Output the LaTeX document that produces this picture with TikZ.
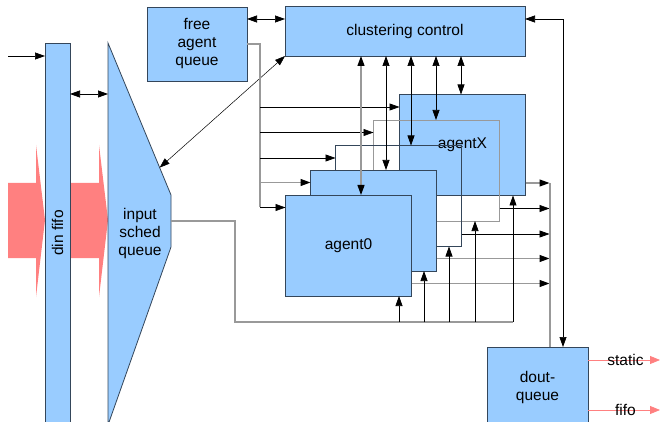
\documentclass[tikz,border=0pt]{standalone}
\usepackage{fontspec}
\setmainfont{Liberation Sans}
\usetikzlibrary{arrows.meta,calc}

\definecolor{boxblue}{HTML}{99CCFF}
\definecolor{boxline}{HTML}{34465A}
\definecolor{flowpink}{HTML}{FF8080}
\definecolor{wiregray}{HTML}{999999}

\tikzset{
  box/.style={draw=boxline, fill=boxblue, line width=0.8pt, outer sep=0pt, inner sep=0pt,
    align=center, minimum width=126pt, minimum height=101pt},
  frame/.style={draw=#1, line width=0.8pt, outer sep=0pt, minimum width=126pt, minimum height=101pt},
  tipb/.tip={Triangle[length=10pt, width=7pt, color=black]},
  arr/.style={-tipb, line width=0.7pt},
  dbl/.style={tipb-tipb, line width=0.7pt},
  garr/.style={-tipb, draw=wiregray, line width=1.2pt},
  gdbl/.style={tipb-tipb, draw=wiregray, line width=1.2pt},
  gwire/.style={draw=wiregray, line width=1.1pt},
  bus/.style={draw=wiregray, line width=2pt},
  parr/.style={-{Triangle[length=10pt, width=8pt]}, draw=flowpink, line width=0.8pt},
}

\begin{document}
\begin{tikzpicture}[x=1pt, y=-1pt, font=\fontsize{15.5pt}{18pt}\selectfont]
  \useasboundingbox (0,0) rectangle (661,422);

  % Incoming data flow
  \fill[flowpink] (8,183) -- (36,183) -- (36,145) -- (45,220) -- (36,297) -- (36,258) -- (8,258) -- cycle;
  \fill[flowpink] (70,183) -- (99,183) -- (99,145) -- (108,220) -- (99,297) -- (99,258) -- (70,258) -- cycle;

  % Input fifo and scheduler queue
  \node[box, minimum width=25pt, minimum height=380pt] (din) at (57.5,233) {};
  \node[rotate=90] (dinlbl) at (din) {din fifo};
  \coordinate (q1) at (108,43);
  \coordinate (q2) at (171,195);
  \coordinate (q3) at (171,247);
  \coordinate (q4) at (108,425);
  \draw[fill=boxblue, draw=boxline, line width=0.8pt] (q1) -- (q2) -- (q3) -- (q4) -- cycle;
  \node[align=center] (isq) at (140,233) {input\\sched\\queue};
  \coordinate (qin) at (108,94);
  \coordinate (qslant) at ($(q1)!0.82!(q2)$);
  \coordinate (qout) at ($(q2)!0.5!(q3)$);

  % Control blocks
  \node[box, minimum width=100pt, minimum height=74pt] (fq) at (197,44) {free\\agent\\queue};
  \node[box, minimum width=240pt, minimum height=50pt] (cc) at (405,31) {clustering control};
  \node[box, minimum width=101pt, minimum height=80pt] (dq) at (537.5,387) {dout-\\queue};

  % Agents
  \node[box] (ax) at (462.5,145) {agentX};
  \node[frame=wiregray] (a3) at (436.5,170.5) {};
  \node[frame=boxline] (a2) at (398.5,196) {};
  \node[box] (a1) at (373.5,220.5) {};
  \node[box] (a0) at (348.5,245.5) {agent0};

  % Lines
  \coordinate (src) at (8,56);
  \draw[arr] (src) -- (src -| din.west);
  \draw[dbl] (din.east |- qin) -- (qin);
  \draw[dbl, line width=0.5pt] (cc.south west) -- (qslant);

  \coordinate (rloop) at (563,19);
  \draw[dbl] (fq.east |- rloop) -- (cc.west |- rloop);
  \draw[dbl] (rloop -| cc.east) -| (rloop |- dq.north);

  % free agent queue to agents
  \foreach \b in {ax,a3,a2,a1,a0}
    \coordinate (in\b) at ([yshift=-12.5pt]\b.north west);
  \draw[gwire] (fq.east) -| (260,0 |- ina0);
  \foreach \b/\s in {ax/arr,a3/arr,a2/arr,a1/garr,a0/arr}
    \draw[\s] (260,0 |- in\b) -- (in\b);

  % clustering control to agents
  \foreach \b/\x/\s in {a0/361/gdbl,a1/386/dbl,a2/411/dbl,a3/436/dbl,ax/461/dbl}
    \draw[\s] (\x,0 |- cc.south) -- (\x,0 |- \b.north);

  % agents to dout queue
  \coordinate (obus) at (549.5,0);
  \foreach \b/\s in {ax/garr,a3/arr,a2/arr,a1/garr,a0/garr}{
    \coordinate (out\b) at ([yshift=12.5pt]\b.south east);
    \draw[\s] (out\b) -- (out\b -| obus);
  }
  \draw[bus] (obus |- outax) -- (obus |- dq.north);

  % feedback from input sched queue
  \coordinate (fb) at (235,322);
  \draw[gwire] (qout) -| (fb) -- (513,0 |- fb);
  \foreach \b/\x in {a0/399,a1/424,a2/449,a3/475,ax/513}
    \draw[arr] (\x,0 |- fb) -- (\x,0 |- \b.south);

  % Outgoing data
  \coordinate (ost) at (660,360);
  \coordinate (ofi) at (660,410);
  \draw[parr] (dq.east |- ost) -- (ost) node[pos=0.52, text=black] (lst) {static};
  \draw[parr] (dq.east |- ofi) -- (ofi) node[pos=0.52, text=black] (lfi) {fifo};
\end{tikzpicture}
\end{document}
